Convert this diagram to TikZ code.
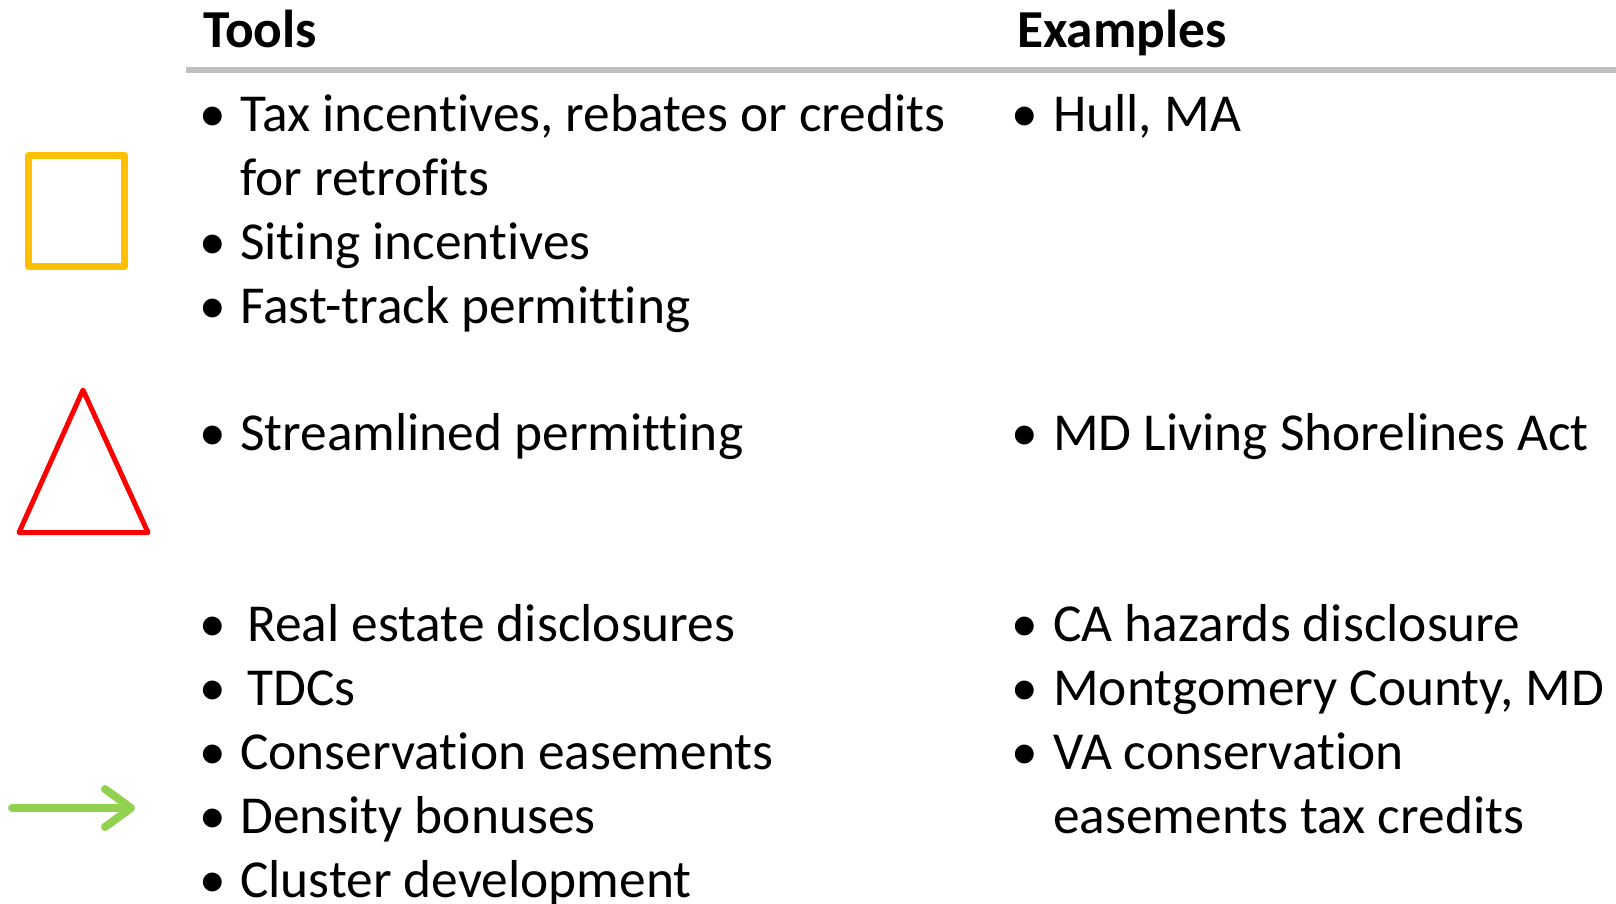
\documentclass[tikz,border=0pt]{standalone}
\usepackage{fontspec}
\setmainfont{Carlito}[Ligatures=NoCommon]
\usepackage{xcolor}
\usepackage{tikz}
\usetikzlibrary{arrows.meta}
\definecolor{ruleGray}{HTML}{BFBFBF}
\definecolor{boxOrange}{HTML}{FFC000}
\definecolor{arrGreen}{HTML}{92D050}

\begin{document}
\begin{tikzpicture}[x=1pt,y=-1pt,
    head/.style={anchor=base west,inner sep=0pt,font=\fontsize{53.4}{64}\selectfont\bfseries},
    item/.style={anchor=base west,inner sep=0pt,font=\fontsize{53.4}{64}\selectfont},
    dot/.style={anchor=base,inner sep=0pt,font=\fontsize{53.4}{64}\selectfont}]

    \useasboundingbox (0,0) rectangle (1616,903);

    %headers
    \node[head] (tools) at (203,47) {Tools};
    \node[head] (examples) at (1017,47) {Examples};
    \draw[line width=6pt,color=ruleGray] (186,70) -- (1616,70);

    %symbols
    \draw[line width=7pt,color=boxOrange,line join=round] (28.5,155.5) rectangle (124.5,266.5);
    \draw[line width=5pt,color=red,line join=round] (83,390) -- (148,532.5) -- (19,532.5) -- cycle;
    \coordinate (arrS) at (12,808); % arrow start
    \coordinate (arrE) at (135,808); % arrow end
    \draw[line width=8pt,color=arrGreen,line cap=round,-{Straight Barb[length=26pt,width=38pt,round]}] (arrS) -- (arrE);

    %tools
    \foreach \n/\x/\y/\t in {1/240/131/{Tax incentives, rebates or credits},2/240/195/for retrofits,
        3/240/259/Siting incentives,4/240/323/Fast-track permitting,5/240/450/Streamlined permitting,
        6/247/641/Real estate disclosures,7/247/705/TDCs,8/240/769/Conservation easements,
        9/240/833/Density bonuses,10/240/897/Cluster development}
    \node[item] (tool\n) at (\x,\y) {\t};

    %examples
    \foreach \n/\y/\t in {1/131/{Hull, MA},2/450/MD Living Shorelines Act,3/641/CA hazards disclosure,
        4/705/{Montgomery County, MD},5/769/VA conservation,6/833/easements tax credits}
    \node[item] (ex\n) at (1053,\y) {\t};

    %bullets
    \foreach \y in {131,259,323,450,641,705,769,833,897}
    \node[dot] (bt\y) at (213,\y) {•};
    \foreach \y in {131,450,641,705,769}
    \node[dot] (be\y) at (1025,\y) {•};

\end{tikzpicture}
\end{document}
